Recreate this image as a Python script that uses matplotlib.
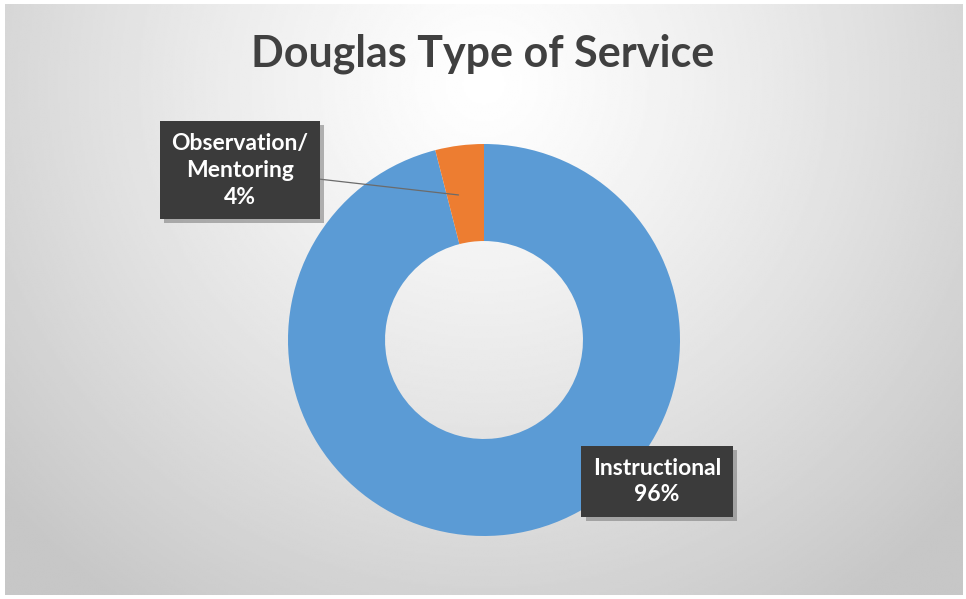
import numpy as np
import matplotlib
matplotlib.use('Agg')
import matplotlib.pyplot as plt
from matplotlib import patheffects as pe

title = 'Douglas Type of Service'
categories = ['Instructional', 'Observation/\nMentoring']
shares = [96, 4]
colors = ['#5B9BD5', '#ED7D31']

plt.rcParams['font.family'] = ['Lato', 'DejaVu Sans']

fig = plt.figure(figsize=(9.66, 5.99), dpi=100)
fig.patch.set_facecolor('white')

# radial gray background, lightest near the top middle
bg = fig.add_axes([0.005, 0.007, 0.991, 0.986])
bg.set_axis_off()
yy, xx = np.mgrid[0:300, 0:483]
r = np.sqrt(((xx - 241) / 320.0) ** 2 + ((yy - 40) / 320.0) ** 2)
shade = 1.0 - 0.22 * np.clip(r, 0, 1) ** 1.2
bg.imshow(shade, cmap='gray', vmin=0, vmax=1, aspect='auto', interpolation='bilinear')

fig.text(0.5, 0.91, title, ha='center', va='center', fontsize=31,
         fontweight='bold', color='#404040')

ax = fig.add_axes([288 / 966, 63 / 599, 392 / 966, 392 / 599])
wedges, _ = ax.pie(shares, colors=colors, startangle=90, counterclock=False,
                   radius=1, wedgeprops=dict(width=0.495, edgecolor='none'))
ax.set_xlim(-1, 1)
ax.set_ylim(-1, 1)
ax.set_axis_off()

box = dict(boxstyle='square,pad=0.5', facecolor='#3b3b3b', edgecolor='none')
shadow = [pe.SimplePatchShadow(offset=(3, -3), shadow_rgbFace='#777777', alpha=0.55), pe.Normal()]

label_pos = [(0.883, -0.722), (-1.245, 0.867)]
anchor = [None, (-0.13, 0.74)]
for name, v, pos, xy in zip(categories, shares, label_pos, anchor):
    txt = '%s\n%d%%' % (name, v)
    if xy is None:
        t = ax.text(pos[0], pos[1], txt, ha='center', va='center', fontsize=16.5,
                    fontweight='bold', color='white', bbox=box, linespacing=1.35)
    else:
        t = ax.annotate(txt, xy=xy, xytext=pos, ha='center', va='center', fontsize=16.5,
                        fontweight='bold', color='white', bbox=box, linespacing=1.35,
                        arrowprops=dict(arrowstyle='-', color='#6b6b6b', lw=0.9,
                                        shrinkA=0, shrinkB=0))
    t.get_bbox_patch().set_path_effects(shadow)

fig.savefig('out.png', dpi=100)
